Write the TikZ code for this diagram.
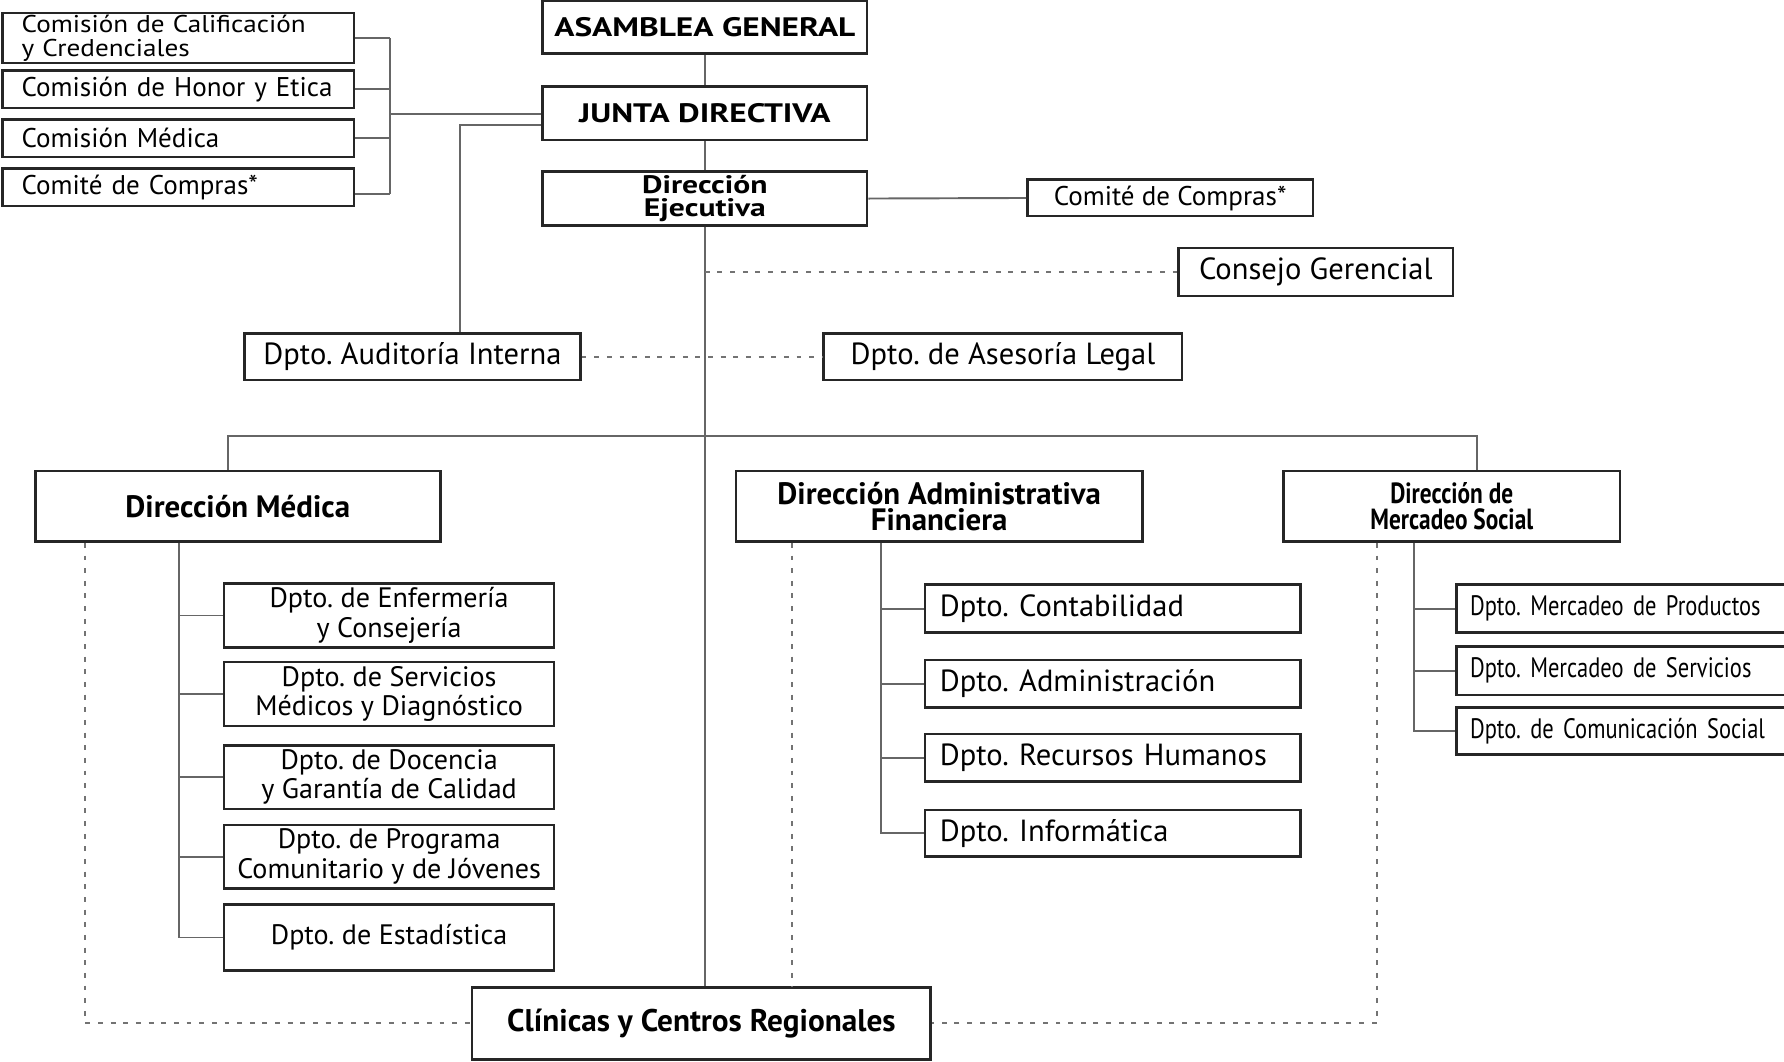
\documentclass[tikz,border=0pt]{standalone}
\usepackage{fontspec}
\setmainfont{PT Sans}
\newfontfamily\ancha{PT Sans}[FakeStretch=1.25]
\newfontfamily\media{PT Sans}[FakeStretch=1.12]
\newfontfamily\estrecha{PT Sans}[FakeStretch=0.8]
\usetikzlibrary{calc}
\newcommand{\pix}{0.011378cm}
\frenchspacing
\tikzset{
caja/.style={draw=black!85, line width=0.75pt, fill=white, inner sep=0pt, align=center},
dim/.style 2 args={minimum width=#1*\pix, minimum height=#2*\pix},
izq/.style 2 args={text width=#1cm, inner xsep=#2*\pix, align=left},
linea/.style={draw=black!60, line width=0.55pt},
puntos/.style={draw=black!55, line width=0.6pt, dash pattern=on 1.4pt off 2.2pt},
tit/.style={font=\ancha\bfseries\fontsize{7.6}{7.2}\selectfont},
dir/.style={font=\bfseries\fontsize{8.8}{7.4}\selectfont},
dep/.style={font=\fontsize{8}{7.3}\selectfont},
depg/.style={font=\fontsize{8.7}{8}\selectfont},
com/.style={font=\fontsize{7.7}{6.7}\selectfont},
merc/.style={font=\estrecha\fontsize{8}{8}\selectfont}
}

\begin{document}
\begin{tikzpicture}[x=\pix, y=-\pix]
\useasboundingbox (0,0) rectangle (1568,933);

% organos de gobierno
\node[caja, dim={285}{46}, tit] (asamblea) at (619.5,24){ASAMBLEA GENERAL};
\node[caja, dim={285}{47}, tit] (junta) at (619.5,99.5){JUNTA DIRECTIVA};
\node[caja, dim={285}{47}, font=\ancha\bfseries\fontsize{7.2}{6.4}\selectfont] (ejecutiva) at (619.5,174.5){Dirección\\Ejecutiva};

\node[caja, dim={309}{44}, izq={3.129}{17}, font=\media\fontsize{6.9}{6.9}\selectfont] (calificacion) at (156.5,33.5){Comisión de Calificación\\y Credenciales};
\node[caja, dim={309}{33}, izq={3.129}{17}, com] (honor) at (156.5,78.5){Comisión de Honor y Etica};
\node[caja, dim={309}{33}, izq={3.129}{17}, com] (cmedica) at (156.5,121.5){Comisión Médica};
\node[caja, dim={309}{33}, izq={3.129}{17}, com] (compras) at (156.5,164.5){Comité de Compras*};

\node[caja, dim={251}{32}, com] (compras2) at (1028.5,174){Comité de Compras*};
\node[caja, dim={241}{42}, depg] (consejo) at (1156.5,239){Consejo Gerencial};
\node[caja, dim={295}{41}, depg] (auditoria) at (362.5,313.5){Dpto. Auditoría Interna};
\node[caja, dim={315}{41}, depg] (legal) at (881.5,313.5){Dpto. de Asesoría Legal};

% direcciones
\node[caja, dim={356}{62}, dir] (dirmedica) at (209,445){Dirección Médica};
\node[caja, dim={357}{62}, dir] (diradmin) at (825.5,445){Dirección Administrativa\\Financiera};
\node[caja, dim={296}{62}, font=\estrecha\bfseries\fontsize{8.3}{7.4}\selectfont] (dirmercadeo) at (1276,445){Dirección de\\Mercadeo Social};
\node[caja, dim={403}{63}, font=\bfseries\fontsize{8.9}{8}\selectfont] (clinicas) at (616.5,899.5){Clínicas y Centros Regionales};

% departamentos
\node[caja, dim={290}{56}, dep] (enfermeria) at (342,541){Dpto. de Enfermería\\y Consejería};
\node[caja, dim={290}{56}, dep] (servicios) at (342,610){Dpto. de Servicios\\Médicos y Diagnóstico};
\node[caja, dim={290}{56}, dep] (docencia) at (342,683){Dpto. de Docencia\\y Garantía de Calidad};
\node[caja, dim={290}{56}, dep] (programa) at (342,753){Dpto. de Programa\\Comunitario y de Jóvenes};
\node[caja, dim={290}{58}, dep] (estadistica) at (342,824){Dpto. de Estadística};

\node[caja, dim={330}{42}, izq={3.459}{13}, depg] (contabilidad) at (978,535){Dpto. Contabilidad};
\node[caja, dim={330}{42}, izq={3.459}{13}, depg] (administracion) at (978,601){Dpto. Administración};
\node[caja, dim={330}{42}, izq={3.459}{13}, depg] (rrhh) at (978,666){Dpto. Recursos Humanos};
\node[caja, dim={330}{41}, izq={3.459}{13}, depg] (informatica) at (978,732.5){Dpto. Informática};

\node[caja, dim={300}{42}, izq={3.140}{12}, merc] (productos) at (1430,535){Dpto. Mercadeo de Productos};
\node[caja, dim={300}{43}, izq={3.140}{12}, merc] (mservicios) at (1430,589.5){Dpto. Mercadeo de Servicios};
\node[caja, dim={300}{41}, izq={3.140}{12}, merc] (comunicacion) at (1430,642.5){Dpto. de Comunicación Social};

% lineas de mando
\draw[linea] (asamblea.south) -- (junta.north);
\draw[linea] (junta.south) -- (ejecutiva.north);
\draw[linea] (ejecutiva.south) -- (ejecutiva.south |- clinicas.north);
\draw[linea] (ejecutiva.east) -- (compras2.west);

\coordinate (llave) at (343,100);
\foreach \c in {calificacion,honor,cmedica}
  \draw[linea] (\c.east) -- (\c.east -| llave);
\draw[linea] ([yshift=-6*\pix]compras.east) -- ([yshift=-6*\pix]compras.east -| llave);
\draw[linea] (calificacion.east -| llave) -- ([yshift=-6*\pix]compras.east -| llave);
\draw[linea] (llave) -- (llave -| junta.west);
\draw[linea] ([yshift=-10*\pix]junta.west) -| ([xshift=41.5*\pix]auditoria.north);

\coordinate (bus) at (619.5,383);
\draw[linea] ([xshift=-9*\pix]dirmedica.north) |- (bus) -| ([xshift=22*\pix]dirmercadeo.north);

\foreach \d in {enfermeria,servicios,docencia,programa,estadistica}
  \draw[linea] ([xshift=-52*\pix]dirmedica.south) |- (\d.west);
\foreach \d in {contabilidad,administracion,rrhh,informatica}
  \draw[linea] ([xshift=-51.5*\pix]diradmin.south) |- (\d.west);
\foreach \d in {productos,mservicios,comunicacion}
  \draw[linea] ([xshift=-33*\pix]dirmercadeo.south) |- (\d.west);

% coordinacion
\draw[puntos] (ejecutiva.south |- consejo.west) -- (consejo.west);
\draw[puntos] (auditoria.east) -- (legal.west);
\draw[puntos] ([xshift=-134*\pix]dirmedica.south) |- (clinicas.west);
\coordinate (admpunto) at ([xshift=-129.5*\pix]diradmin.south);
\draw[puntos] (admpunto) -- (admpunto |- clinicas.north);
\draw[puntos] ([xshift=-66*\pix]dirmercadeo.south) |- (clinicas.east);

\end{tikzpicture}
\end{document}
